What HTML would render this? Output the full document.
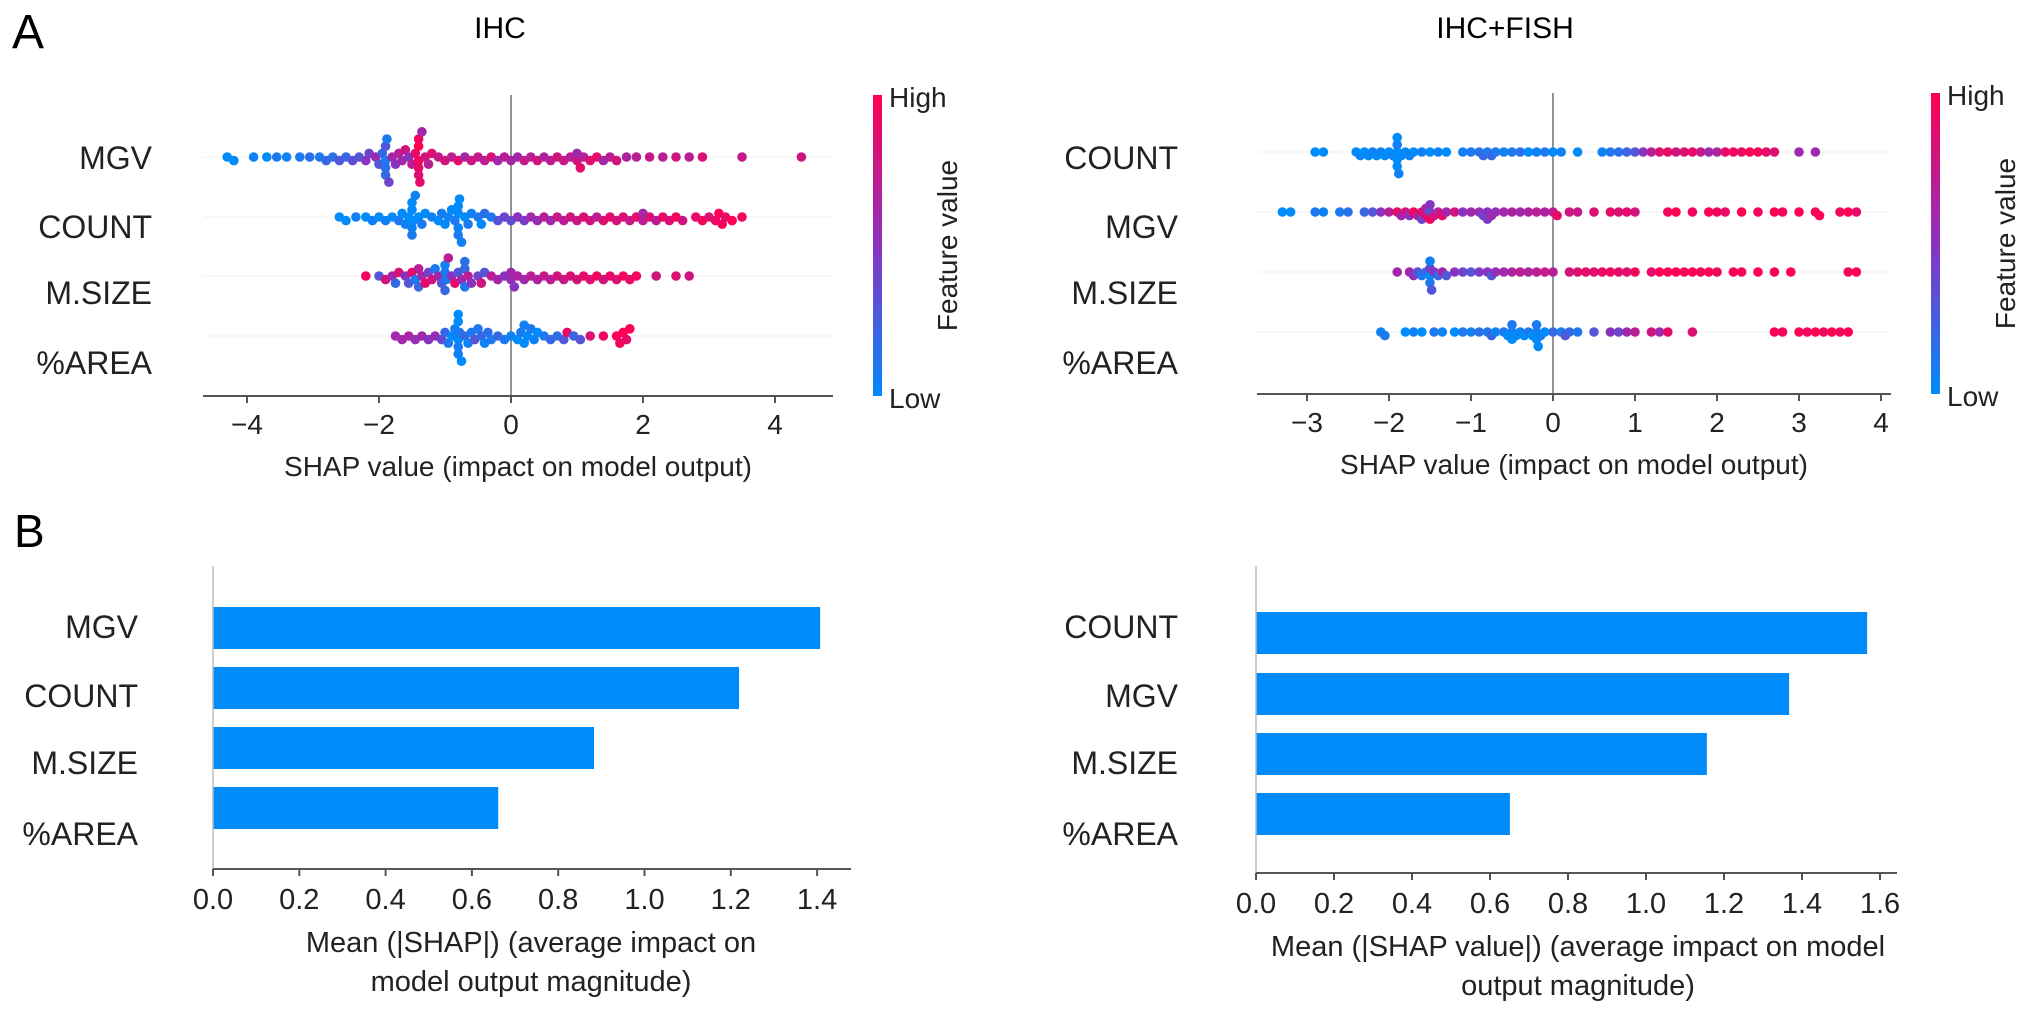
<!DOCTYPE html>
<html><head><meta charset="utf-8">
<style>
html,body{margin:0;padding:0;background:#fff;}
svg{display:block;font-family:"Liberation Sans",Arial,sans-serif;}
</style></head>
<body>
<svg id="fig" width="2032" height="1015" viewBox="0 0 2032 1015" xmlns="http://www.w3.org/2000/svg">
<defs>
<linearGradient id="cbar" x1="0" y1="1" x2="0" y2="0">
<stop offset="0" stop-color="#008bfb"/><stop offset="0.5" stop-color="#8a32c0"/><stop offset="1" stop-color="#ff0052"/>
</linearGradient>
</defs>
<text x="12" y="48" font-size="48">A</text>
<text x="14" y="547" font-size="46">B</text>
<text x="500" y="38" font-size="30" text-anchor="middle">IHC</text>
<text x="1505" y="38" font-size="30" text-anchor="middle">IHC+FISH</text>
<g id="plots"></g>
</svg>
<script>
// ---- data ----
const swarmFeaturesIHC = ["MGV","COUNT","M.SIZE","%AREA"];
const swarmFeaturesFISH = ["COUNT","MGV","M.SIZE","%AREA"];
const swarmTicksIHC = [-4,-2,0,2,4];
const swarmTicksFISH = [-3,-2,-1,0,1,2,3,4];
const ihcMGV = [[-4.3,0],[-4.2,0],[-3.9,.05],[-3.7,0],[-3.55,.1],[-3.4,.05],[-3.2,.1],[-3.05,.15],[-2.9,.1],[-2.8,.2],[-2.7,.15],[-2.6,.3],[-2.5,.2],[-2.4,.35],[-2.3,.3],[-2.2,.5],[-2.15,.4],[-2.05,.6],[-2.0,.3],[-1.95,.2],[-1.9,.1],[-1.9,.15],[-1.9,.3],[-1.9,.2],[-1.88,.1],[-1.85,.4],[-1.8,.6],[-1.75,.5],[-1.7,.7],[-1.65,.6],[-1.6,.8],[-1.55,.5],[-1.5,.7],[-1.45,.9],[-1.4,.95],[-1.4,.9],[-1.4,1],[-1.4,.85],[-1.4,.95],[-1.38,.9],[-1.35,.6],[-1.3,.8],[-1.25,.7],[-1.2,.85],[-1.1,.75],[-1.0,.8],[-0.9,.7],[-0.8,.9],[-0.7,.6],[-0.6,.8],[-0.5,.75],[-0.4,.7],[-0.3,.85],[-0.2,.6],[-0.1,.7],[0.0,.65],[0.1,.6],[0.2,.75],[0.3,.7],[0.4,.8],[0.5,.65],[0.6,.7],[0.7,.8],[0.8,.75],[0.9,.7],[1.0,.8],[1.0,.6],[1.05,.9],[1.1,.7],[1.2,.85],[1.3,.9],[1.4,.6],[1.5,.7],[1.6,.8],[1.75,.65],[1.9,.7],[2.1,.75],[2.3,.7],[2.5,.8],[2.7,.7],[2.9,.85],[3.5,.75],[4.4,.8]];
const ihcCOUNT = [[-2.6,0],[-2.5,0],[-2.35,.05],[-2.2,0],[-2.1,.05],[-2.0,0],[-1.9,.05],[-1.8,0],[-1.7,.1],[-1.65,0],[-1.6,.05],[-1.55,0],[-1.5,0],[-1.5,.05],[-1.5,0],[-1.5,.1],[-1.48,0],[-1.45,.05],[-1.4,0],[-1.35,.1],[-1.3,0],[-1.2,.05],[-1.1,0],[-1.05,.1],[-1.0,0],[-0.95,.05],[-0.9,0],[-0.85,.1],[-0.8,0],[-0.8,.05],[-0.8,0],[-0.8,.1],[-0.78,0],[-0.75,.05],[-0.7,0],[-0.65,.1],[-0.6,.05],[-0.5,.1],[-0.45,0],[-0.4,.15],[-0.3,.1],[-0.2,.3],[-0.1,.4],[0.0,.35],[0.1,.5],[0.2,.45],[0.3,.6],[0.4,.55],[0.5,.7],[0.6,.6],[0.7,.75],[0.8,.7],[0.9,.8],[1.0,.75],[1.1,.85],[1.2,.8],[1.3,.7],[1.4,.85],[1.5,.9],[1.6,.8],[1.7,.85],[1.8,.75],[1.9,.9],[2.0,.7],[2.0,.6],[2.1,.85],[2.2,.7],[2.3,.9],[2.4,.85],[2.5,.95],[2.6,.8],[2.8,.9],[2.9,.95],[3.0,.85],[3.1,.9],[3.15,1],[3.2,.95],[3.25,.9],[3.35,1],[3.5,.95]];
const ihcMSIZE = [[-2.2,.95],[-2.0,.3],[-1.9,.8],[-1.8,.6],[-1.75,.2],[-1.7,.85],[-1.6,.5],[-1.55,.3],[-1.5,.9],[-1.45,.1],[-1.4,.7],[-1.4,.2],[-1.35,.6],[-1.3,.9],[-1.25,.4],[-1.2,.8],[-1.15,.1],[-1.1,.6],[-1.05,.3],[-1.0,.1],[-1.0,.05],[-1.0,.2],[-0.98,.1],[-0.95,.7],[-0.9,.5],[-0.85,.9],[-0.8,.3],[-0.75,.6],[-0.7,.2],[-0.7,.1],[-0.7,.15],[-0.65,.7],[-0.6,.5],[-0.5,.4],[-0.45,.8],[-0.4,.3],[-0.3,.7],[-0.2,.6],[-0.1,.5],[0.0,.55],[0.0,.6],[0.05,.5],[0.1,.65],[0.2,.6],[0.3,.7],[0.4,.65],[0.5,.75],[0.6,.7],[0.7,.8],[0.8,.75],[0.9,.85],[1.0,.8],[1.1,.9],[1.2,.85],[1.3,.95],[1.4,.8],[1.5,.9],[1.6,.85],[1.7,.95],[1.8,.9],[1.9,.95],[2.2,.8],[2.5,.85],[2.7,.8]];
const ihcAREA = [[-1.75,.6],[-1.65,.6],[-1.55,.65],[-1.45,.55],[-1.35,.6],[-1.25,.5],[-1.15,.55],[-1.05,.4],[-1.0,.2],[-0.95,.1],[-0.9,0],[-0.85,.05],[-0.8,0],[-0.8,.1],[-0.8,0],[-0.8,.05],[-0.8,0],[-0.78,.1],[-0.75,0],[-0.7,.2],[-0.65,.05],[-0.6,.1],[-0.55,.3],[-0.5,.1],[-0.45,.2],[-0.4,.05],[-0.35,.15],[-0.3,.1],[-0.2,.2],[-0.1,.1],[0.0,.05],[0.1,0],[0.15,.1],[0.2,0],[0.2,.05],[0.25,0],[0.3,.1],[0.35,.05],[0.4,0],[0.5,.1],[0.6,.2],[0.7,.15],[0.8,.3],[0.85,.9],[0.95,.2],[1.05,.3],[1.2,.85],[1.4,.95],[1.6,1],[1.65,.95],[1.7,1],[1.75,.9],[1.8,1]];
const fishCOUNT = [[-2.9,0],[-2.8,0],[-2.4,0],[-2.35,.05],[-2.3,0],[-2.25,0],[-2.2,.05],[-2.15,0],[-2.1,.05],[-2.05,0],[-2.0,0],[-1.95,.05],[-1.9,0],[-1.9,0],[-1.9,.05],[-1.9,0],[-1.9,0],[-1.88,.05],[-1.85,0],[-1.8,0],[-1.75,.05],[-1.7,0],[-1.6,.05],[-1.5,0],[-1.4,.05],[-1.3,0],[-1.1,.05],[-1.0,.1],[-0.9,.15],[-0.85,.2],[-0.8,.1],[-0.75,.2],[-0.7,.1],[-0.6,.05],[-0.5,.1],[-0.4,.15],[-0.3,0],[-0.2,.05],[-0.1,.1],[0.0,0],[0.1,.05],[0.3,0],[0.6,.05],[0.7,.1],[0.8,.15],[0.9,.2],[1.0,.3],[1.1,.5],[1.2,.7],[1.3,.85],[1.4,.9],[1.5,.8],[1.6,.85],[1.7,.9],[1.8,.75],[1.9,.6],[2.0,.65],[2.1,.9],[2.2,.95],[2.3,.9],[2.4,1],[2.5,.95],[2.6,.9],[2.7,.85],[3.0,.6],[3.2,.6]];
const fishMGV = [[-3.3,0],[-3.2,0],[-2.9,.1],[-2.8,.05],[-2.6,.1],[-2.5,.15],[-2.3,.2],[-2.2,.3],[-2.1,.5],[-2.0,.7],[-1.9,.9],[-1.85,.6],[-1.8,.8],[-1.75,.5],[-1.7,.95],[-1.65,.7],[-1.6,.9],[-1.6,.4],[-1.55,.85],[-1.55,.6],[-1.5,.3],[-1.5,.95],[-1.5,.5],[-1.45,.8],[-1.4,.7],[-1.35,.9],[-1.3,.6],[-1.2,.8],[-1.1,.5],[-1.0,.6],[-0.9,.55],[-0.85,.4],[-0.8,.5],[-0.8,.45],[-0.75,.6],[-0.7,.55],[-0.6,.6],[-0.5,.65],[-0.4,.6],[-0.3,.65],[-0.2,.7],[-0.1,.65],[0.0,.7],[0.05,.9],[0.2,.8],[0.3,.75],[0.5,.85],[0.7,.9],[0.8,.85],[0.9,.9],[1.0,.8],[1.4,.95],[1.5,1],[1.7,.95],[1.9,1],[2.0,.95],[2.1,.9],[2.3,1],[2.5,.95],[2.7,1],[2.8,.95],[3.0,1],[3.2,.95],[3.25,1],[3.5,.95],[3.6,1],[3.7,.9]];
const fishMSIZE = [[-1.9,.6],[-1.75,.6],[-1.7,.5],[-1.65,.3],[-1.6,.1],[-1.55,.2],[-1.5,0],[-1.5,.4],[-1.5,.1],[-1.5,.05],[-1.48,.3],[-1.45,.5],[-1.4,.2],[-1.35,.6],[-1.3,.3],[-1.2,.5],[-1.1,.4],[-1.0,.3],[-0.9,.45],[-0.8,.5],[-0.75,.3],[-0.7,.55],[-0.6,.6],[-0.5,.65],[-0.4,.7],[-0.3,.65],[-0.2,.7],[-0.1,.75],[0.0,.7],[0.2,.8],[0.3,.85],[0.4,.9],[0.5,.85],[0.6,.9],[0.7,.95],[0.8,.9],[0.9,.85],[1.0,.95],[1.2,.9],[1.3,1],[1.4,.95],[1.5,1],[1.6,.95],[1.7,1],[1.8,.95],[1.9,1],[2.0,.95],[2.2,1],[2.3,.95],[2.5,1],[2.7,.95],[2.9,1],[3.6,.95],[3.7,1]];
const fishAREA = [[-2.1,.05],[-2.05,.1],[-1.8,0],[-1.7,.05],[-1.6,0],[-1.45,.1],[-1.35,.05],[-1.2,0],[-1.1,.1],[-1.0,.05],[-0.9,.15],[-0.8,.1],[-0.75,.2],[-0.7,.05],[-0.6,.1],[-0.55,0],[-0.5,.05],[-0.5,0],[-0.5,.1],[-0.45,0],[-0.4,.05],[-0.35,0],[-0.3,.1],[-0.25,0],[-0.2,.05],[-0.2,0],[-0.2,.1],[-0.18,0],[-0.15,.05],[-0.1,0],[0.0,.2],[0.1,.1],[0.15,.3],[0.2,.2],[0.3,.1],[0.5,.3],[0.7,.5],[0.8,.4],[0.9,.6],[1.0,.7],[1.2,.8],[1.3,.6],[1.4,.9],[1.7,.85],[2.7,1],[2.8,.95],[3.0,1],[3.1,.95],[3.2,1],[3.3,.95],[3.4,1],[3.5,.95],[3.6,1]];
const barFeaturesIHC = ["MGV","COUNT","M.SIZE","%AREA"];
const barValuesIHC = [1.407,1.219,0.883,0.661];
const barFeaturesFISH = ["COUNT","MGV","M.SIZE","%AREA"];
const barValuesFISH = [1.567,1.367,1.156,0.651];
const barTicksIHC = [0,0.2,0.4,0.6,0.8,1.0,1.2,1.4];
const barTicksFISH = [0,0.2,0.4,0.6,0.8,1.0,1.2,1.4,1.6];

// ---- rendering ----
const NS = "http://www.w3.org/2000/svg";
const root = document.getElementById('plots');
function mk(tag, attrs, parent, text){
  const e = document.createElementNS(NS, tag);
  for (const k in attrs) e.setAttribute(k, attrs[k]);
  if (text !== undefined) e.textContent = text;
  (parent||root).appendChild(e);
  return e;
}
function lerp(a,b,t){return a+(b-a)*t;}
function colorOf(v){
  const s=[[0,[0,139,251]],[0.5,[138,50,192]],[1,[255,0,82]]];
  let i = v<=0.5?0:1; const a=s[i],b=s[i+1]; const t=(v-a[0])/(b[0]-a[0]);
  const c=[0,1,2].map(k=>Math.round(lerp(a[1][k],b[1][k],t)));
  return `rgb(${c[0]},${c[1]},${c[2]})`;
}
function swarm(g, pts, sx, cy, featureName){
  const d = 7, placed = [];
  const sorted = pts.slice().sort((a,b)=>a[0]-b[0]);
  sorted.forEach(p=>{
    const x = sx(p[0]);
    let off = 0;
    for (let k=0;k<16;k++){
      const cand = (k%2===1?1:-1)*Math.ceil(k/2)*3.6;
      let ok = true;
      for (const q of placed){
        const dx = Math.abs(q.x-x);
        if (dx<d && Math.abs(q.y-cand) < Math.sqrt(d*d-dx*dx)*0.6){ok=false;break;}
      }
      if (ok){off=cand;break;}
      off = cand;
    }
    if (Math.abs(off)>30) off = Math.sign(off)*30;
    placed.push({x:x,y:off});
    const c = mk('circle',{cx:x.toFixed(1),cy:(cy+off).toFixed(1),r:4.8,fill:colorOf(p[1])},g);
    
    
  });
}
function swarmPlot(cfg){
  const g = mk('g',{});
  
  
  const sx = v => cfg.x0 + v*cfg.unit;
  cfg.rows.forEach((r,i)=>{
    const ln = mk('line',{x1:cfg.axL,x2:cfg.axR,y1:cfg.rowY[i],y2:cfg.rowY[i],stroke:'#f5f5f5','stroke-width':1.5},g);
    
    
  });
  const zl = mk('line',{x1:sx(0),x2:sx(0),y1:cfg.top,y2:cfg.axY,stroke:'#888','stroke-width':1.8},g);
  
  
  cfg.rows.forEach((r,i)=>{
    swarm(g, r.data, sx, cfg.rowY[i], r.label);
    const t = mk('text',{x:cfg.labelX,y:cfg.labelY[i],'font-size':32,'text-anchor':'end','dominant-baseline':'central',fill:'#222'},g,r.label);
    
    
  });
  const ax = mk('line',{x1:cfg.axL,x2:cfg.axR,y1:cfg.axY,y2:cfg.axY,stroke:'#555','stroke-width':2},g);
  
  
  cfg.ticks.forEach(v=>{
    const tk = mk('line',{x1:sx(v),x2:sx(v),y1:cfg.axY,y2:cfg.axY+7,stroke:'#555','stroke-width':2},g);
    
    
    const tl = mk('text',{x:sx(v),y:cfg.axY+38,'font-size':28,'text-anchor':'middle',fill:'#222'},g,(v<0?'\u2212'+Math.abs(v):String(v)));
    
    
  });
  const xt = mk('text',{x:(cfg.axL+cfg.axR)/2,y:cfg.axY+80,'font-size':28,'text-anchor':'middle',fill:'#222'},g,'SHAP value (impact on model output)');
  
  
  const cb = mk('rect',{x:cfg.cbX,y:cfg.top,width:9,height:cfg.axY-cfg.top,fill:'url(#cbar)'},g);
  
  
  const hi = mk('text',{x:cfg.cbX+16,y:cfg.top+12,'font-size':28,fill:'#222'},g,'High');
  
  
  const lo = mk('text',{x:cfg.cbX+16,y:cfg.axY+12,'font-size':28,fill:'#222'},g,'Low');
  
  
  const fv = mk('text',{x:0,y:0,'font-size':28,'text-anchor':'middle',fill:'#222',transform:`translate(${cfg.cbX+84},${(cfg.top+cfg.axY)/2}) rotate(-90)`},g,'Feature value');
  
  
}
function barPlot(cfg){
  const g = mk('g',{});
  
  
  const sx = v => cfg.x0 + v*cfg.unit;
  cfg.values.forEach((v,i)=>{
    const b = mk('rect',{x:sx(0),y:cfg.barY[i],width:sx(v)-sx(0),height:42,fill:'#008bfb'},g);
    
    
    const t = mk('text',{x:cfg.labelX,y:cfg.labelY[i],'font-size':32,'text-anchor':'end','dominant-baseline':'central',fill:'#222'},g,cfg.features[i]);
    
    
  });
  const ya = mk('line',{x1:sx(0),x2:sx(0),y1:566,y2:cfg.axY,stroke:'#bbb','stroke-width':1.5},g);
  
  
  const ax = mk('line',{x1:sx(0),x2:cfg.axR,y1:cfg.axY,y2:cfg.axY,stroke:'#555','stroke-width':2},g);
  
  
  cfg.ticks.forEach(v=>{
    const tk = mk('line',{x1:sx(v),x2:sx(v),y1:cfg.axY,y2:cfg.axY+7,stroke:'#555','stroke-width':2},g);
    
    
    const tl = mk('text',{x:sx(v),y:cfg.axY+40,'font-size':29,'text-anchor':'middle',fill:'#222'},g,v.toFixed(1));
    
    
  });
  cfg.title.forEach((line,i)=>{
    const xt = mk('text',{x:cfg.titleX,y:cfg.axY+83+i*39,'font-size':29,'text-anchor':'middle',fill:'#222'},g,line);
    
    
  });
}
swarmPlot({name:'beeswarm-ihc', x0:511, unit:66, axL:203, axR:833, axY:396, top:95,
  rowY:[157,217,276,336], labelX:152, labelY:[158,227,293,363], ticks:swarmTicksIHC, cbX:873,
  rows:[{label:swarmFeaturesIHC[0],data:ihcMGV},{label:swarmFeaturesIHC[1],data:ihcCOUNT},{label:swarmFeaturesIHC[2],data:ihcMSIZE},{label:swarmFeaturesIHC[3],data:ihcAREA}]});
swarmPlot({name:'beeswarm-ihc-fish', x0:1553, unit:82, axL:1257, axR:1891, axY:394, top:93,
  rowY:[152,212,272,332], labelX:1178, labelY:[158,227,293,363], ticks:swarmTicksFISH, cbX:1931,
  rows:[{label:swarmFeaturesFISH[0],data:fishCOUNT},{label:swarmFeaturesFISH[1],data:fishMGV},{label:swarmFeaturesFISH[2],data:fishMSIZE},{label:swarmFeaturesFISH[3],data:fishAREA}]});
barPlot({name:'bar-ihc', x0:213, unit:431.5, axR:851, axY:869, barY:[607,667,727,787], labelX:138, labelY:[627,696,763,834],
  values:barValuesIHC, features:barFeaturesIHC, ticks:barTicksIHC, titleX:531,
  title:['Mean (|SHAP|) (average impact on','model output magnitude)']});
barPlot({name:'bar-ihc-fish', x0:1256, unit:390, axR:1897, axY:873, barY:[612,673,733,793], labelX:1178, labelY:[627,696,763,834],
  values:barValuesFISH, features:barFeaturesFISH, ticks:barTicksFISH, titleX:1578,
  title:['Mean (|SHAP value|) (average impact on model','output magnitude)']});
</script>
</body></html>
